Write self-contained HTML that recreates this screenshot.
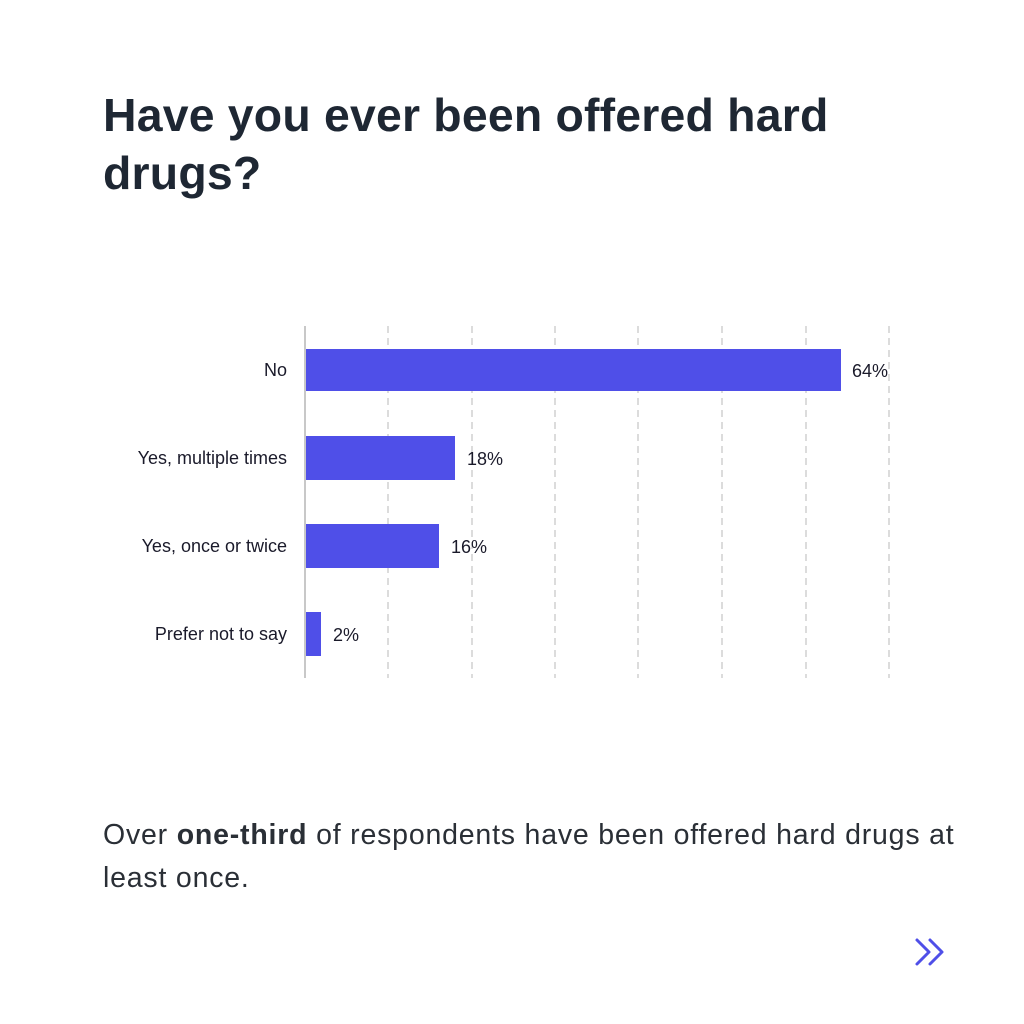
<!DOCTYPE html>
<html><head><meta charset="utf-8"><style>
body{margin:0;width:1024px;height:1024px;background:#fff;position:relative;overflow:hidden;font-family:"Liberation Sans",sans-serif}
.t{position:absolute;left:103px;top:86px;font-size:46.4px;font-weight:bold;color:#1e2733;line-height:58px;letter-spacing:0.2px}
.b{position:absolute;left:103px;top:814px;font-size:28.5px;color:#2a2f36;line-height:43px;width:880px;letter-spacing:0.8px}
</style></head><body>
<div class="t">Have you ever been offered hard<br>drugs?</div>
<svg width="1024" height="1024" style="position:absolute;left:0;top:0" font-family="Liberation Sans, sans-serif">
<g stroke="#d0d0d0" stroke-width="1.5" stroke-dasharray="7,5">
<line x1="388" y1="326" x2="388" y2="678"/><line x1="472" y1="326" x2="472" y2="678"/>
<line x1="555" y1="326" x2="555" y2="678"/><line x1="638" y1="326" x2="638" y2="678"/>
<line x1="722" y1="326" x2="722" y2="678"/><line x1="806" y1="326" x2="806" y2="678"/>
<line x1="889" y1="326" x2="889" y2="678"/></g>
<line x1="305" y1="326" x2="305" y2="678" stroke="#c8c8c8" stroke-width="2"/>
<g fill="#4f4fe8">
<rect x="306" y="349" width="535" height="42"/>
<rect x="306" y="436" width="149" height="44"/>
<rect x="306" y="524" width="133" height="44"/>
<rect x="306" y="612" width="15" height="44"/></g>
<g font-size="18" fill="#1a1a2a" text-anchor="end">
<text x="287" y="376">No</text><text x="287" y="464">Yes, multiple times</text>
<text x="287" y="552">Yes, once or twice</text><text x="287" y="640">Prefer not to say</text></g>
<g font-size="18" fill="#1a1a2a">
<text x="852" y="377">64%</text><text x="467" y="465">18%</text>
<text x="451" y="553">16%</text><text x="333" y="641">2%</text></g>
<g fill="none" stroke="#4f4fe8" stroke-width="3" stroke-linecap="round" stroke-linejoin="round">
<polyline points="917,940 929,952 917,964"/><polyline points="930,940 942,952 930,964"/></g>
</svg>
<div class="b">Over <b>one-third</b> of respondents have been offered hard drugs at least once.</div>
</body></html>
